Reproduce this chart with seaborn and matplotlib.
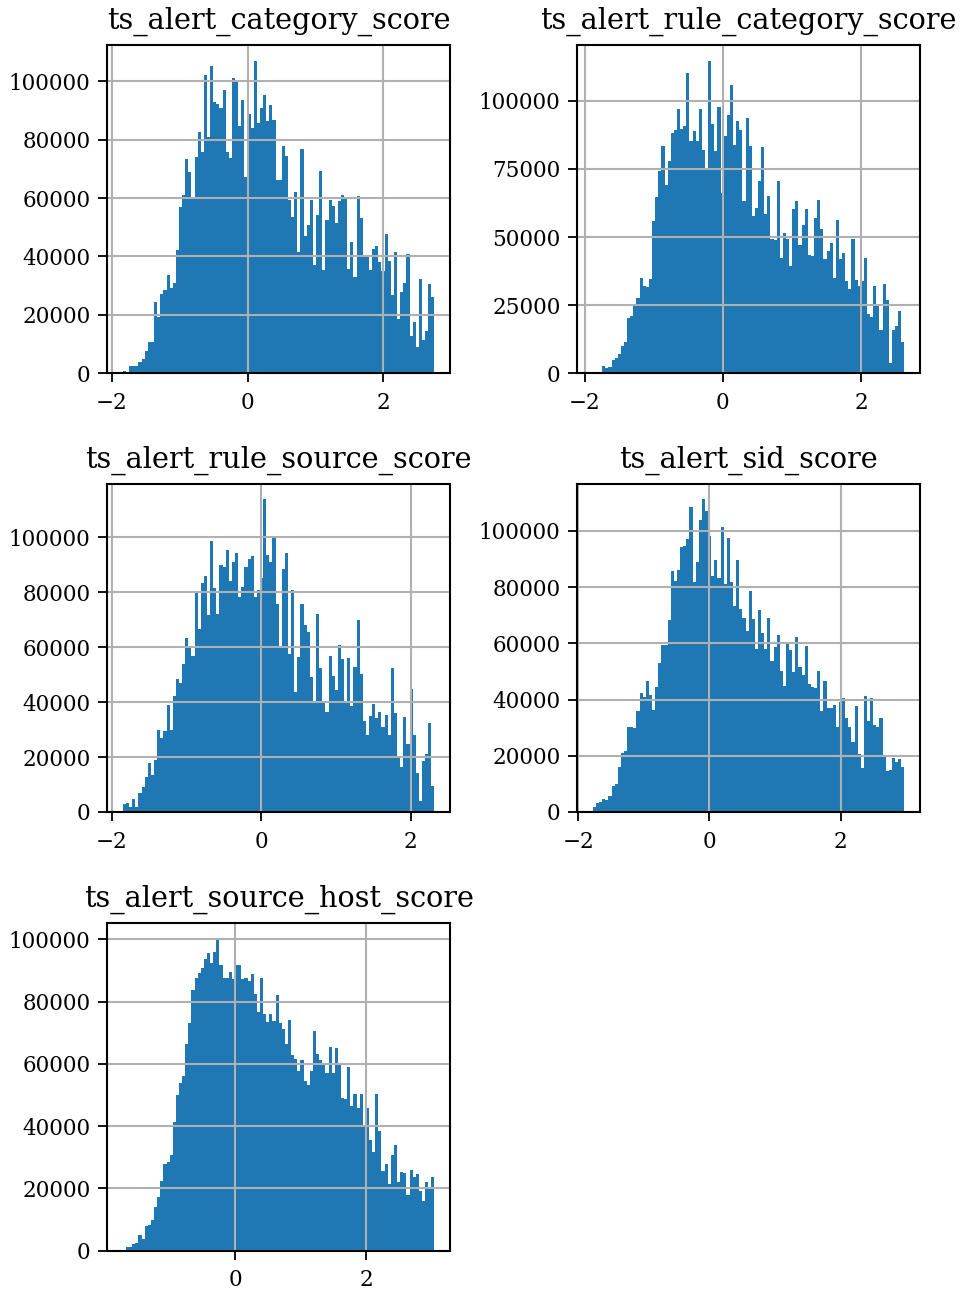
import numpy as np
import pandas as pd
import matplotlib
matplotlib.use("Agg")
import matplotlib.pyplot as plt
from matplotlib.ticker import MultipleLocator, StrMethodFormatter
import seaborn as sns

titles = ["ts_alert_category_score", "ts_alert_rule_category_score",
          "ts_alert_rule_source_score", "ts_alert_sid_score",
          "ts_alert_source_host_score"]

# data ranges (min, max) of each column
ranges = [(-1.834, 2.750), (-1.879, 2.626), (-1.849, 2.318),
          (-1.776, 2.973), (-1.715, 3.044)]

# bin counts (100 bins each)
counts_category = [700, 500, 2500, 2300, 2500, 3900, 4900, 7700, 10700, 10700,
    24500, 19100, 27200, 28600, 33700, 29100, 30900, 42300, 57000, 61100,
    73500, 69100, 60000, 74200, 82700, 75900, 102000, 81000, 105400, 93000,
    92200, 90700, 97100, 75700, 73600, 101300, 100200, 84800, 93700, 67100,
    88900, 83900, 107100, 85800, 90700, 95400, 86500, 92000, 86900, 66300,
    66300, 77900, 74500, 59200, 53400, 62200, 41400, 76900, 46900, 50600,
    59400, 37100, 54300, 69400, 35200, 52600, 59400, 57400, 51300, 59100,
    61100, 60500, 35800, 45000, 33100, 60800, 53300, 40200, 40000, 35200,
    42600, 43700, 38200, 34900, 47800, 38600, 26900, 41400, 18700, 27900,
    31000, 40900, 12600, 17600, 9100, 32300, 11500, 14500, 30600, 26200]

counts_rule_category = [200, 500, 500, 2700, 2000, 2300, 4900, 5600, 7100, 10000,
    11500, 20300, 21100, 24700, 27700, 35000, 32100, 31800, 34700, 56000,
    64800, 74400, 83500, 69200, 78000, 88300, 89400, 97100, 89800, 90900,
    110400, 85400, 89100, 85400, 97100, 82100, 75100, 114800, 91600, 81700,
    97900, 66300, 87200, 94900, 106000, 83900, 92700, 89400, 63300, 93800,
    83500, 57800, 60800, 70700, 83200, 58600, 65200, 49200, 49000, 70700,
    42400, 51600, 49400, 39400, 60400, 63300, 47200, 54500, 60400, 43500,
    43100, 57100, 63700, 53000, 42000, 45000, 47900, 35000, 56400, 42000,
    44200, 33900, 31000, 49400, 34300, 32100, 33900, 42400, 21800, 20700,
    32100, 25100, 15900, 32800, 27000, 3800, 15900, 17400, 22900, 11500]

counts_rule_source = [3000, 3400, 1900, 4800, 1900, 7000, 9200, 12800, 17900, 13600,
    19000, 29900, 27000, 29500, 39000, 29900, 42300, 48400, 47000, 53900,
    63300, 59700, 56800, 79700, 66600, 83300, 85900, 71700, 98600, 81500,
    72100, 89900, 89100, 95300, 84000, 90900, 94200, 78200, 81900, 89100,
    92000, 93100, 78200, 80800, 85100, 113800, 93500, 90900, 99700, 75700,
    60400, 88400, 94200, 57500, 80800, 43700, 56400, 75700, 68100, 65500,
    49200, 39700, 72100, 52400, 40400, 36400, 56800, 49500, 44400, 60800,
    55700, 40400, 56100, 38600, 52800, 69900, 50300, 33200, 28100, 35000,
    39400, 34300, 36400, 31000, 35400, 28100, 52400, 36100, 20500, 16500,
    34600, 24800, 44800, 28100, 14300, 4100, 18600, 21200, 32500, 9600]

counts_sid = [1900, 3300, 3700, 4700, 4400, 5800, 9300, 10100, 16100, 21100,
    21800, 30300, 30300, 29900, 36000, 42400, 40900, 46600, 41600, 36300,
    44500, 53000, 59400, 59400, 68300, 85600, 82100, 86000, 94200, 94500,
    97000, 108400, 81700, 88800, 103700, 111200, 106900, 98100, 83900, 89600,
    83200, 101300, 81000, 97400, 81700, 73200, 89600, 72200, 69000, 64400,
    78600, 68600, 58000, 71800, 63600, 58000, 69000, 53700, 58700, 62900,
    50200, 44800, 60500, 57600, 49800, 62200, 51600, 48700, 59000, 45500,
    44500, 44100, 50200, 36000, 46600, 37000, 37000, 38100, 30300, 39200,
    40600, 33500, 30300, 25000, 37700, 20700, 15700, 41300, 32400, 40600,
    31000, 30300, 33500, 20000, 14700, 15000, 19300, 17900, 18900, 16100]

counts_source_host = [300, 1200, 1200, 2100, 2500, 5000, 3700, 7900, 8200, 9800,
    14000, 17200, 22400, 27800, 28500, 30700, 41300, 50000, 53800, 56100,
    66300, 73100, 83700, 87500, 89100, 90700, 93600, 95600, 92300, 95900,
    100400, 91700, 87500, 87500, 89500, 87200, 91700, 91700, 87200, 87500,
    86600, 88800, 82400, 76600, 87500, 76000, 73400, 76000, 73700, 82100,
    73100, 71200, 66300, 74000, 62800, 61500, 57700, 61200, 54500, 53200,
    57700, 70500, 63100, 61200, 59900, 57000, 65400, 57000, 65100, 59900,
    49000, 48700, 59000, 46400, 50300, 45800, 50300, 40300, 45800, 35500,
    31700, 50300, 38400, 25600, 27800, 21400, 30700, 33900, 22000, 25300,
    24900, 17900, 25900, 23600, 24600, 19200, 15900, 22000, 19800, 23600]

all_counts = [counts_category, counts_rule_category, counts_rule_source,
              counts_sid, counts_source_host]
ytick_steps = [20000, 25000, 20000, 20000, 20000]

sns.set_theme(style="ticks")
plt.rcParams["font.family"] = ["DejaVu Serif"]
plt.rcParams["mathtext.fontset"] = "dejavuserif"
plt.rcParams["text.color"] = "black"
plt.rcParams["axes.labelcolor"] = "black"
plt.rcParams["xtick.color"] = "black"
plt.rcParams["ytick.color"] = "black"

fig, axes = plt.subplots(3, 2, figsize=(9.61, 12.89), dpi=100)
fig.subplots_adjust(left=0.1117, right=0.9573, top=0.9651, bottom=0.0297,
                    wspace=0.3715, hspace=0.337)
flat = axes.ravel()

for i, (title, (lo, hi), counts) in enumerate(zip(titles, ranges, all_counts)):
    ax = flat[i]
    counts = np.asarray(counts, dtype=float)
    nb = len(counts)
    width = (hi - lo) / nb
    centers = lo + width * (np.arange(nb) + 0.5)
    df = pd.DataFrame({"x": centers, "w": counts})
    sns.histplot(data=df, x="x", weights="w", bins=nb, binrange=(lo, hi), ax=ax,
                 color="#1f77b4", alpha=1.0, linewidth=0, edgecolor="none")
    ax.set_axisbelow("line")
    ax.grid(True, color="#b0b0b0", linewidth=1.5)
    ax.set_xlabel("")
    ax.set_ylabel("")
    ax.set_title(title, fontsize=20.7, pad=11.5, color="black")
    ax.xaxis.set_major_locator(MultipleLocator(2))
    ax.yaxis.set_major_locator(MultipleLocator(ytick_steps[i]))
    ax.yaxis.set_major_formatter(StrMethodFormatter("{x:.0f}"))
    ax.tick_params(axis="both", labelsize=15.5, length=6.5, width=1.3,
                   color="black", labelcolor="black", pad=7, direction="out")
    ax.tick_params(axis="y", pad=5.5)
    for s in ax.spines.values():
        s.set_visible(True)
        s.set_color("black")
        s.set_linewidth(1.5)

flat[5].set_visible(False)

fig.savefig("out.png", dpi=100)
